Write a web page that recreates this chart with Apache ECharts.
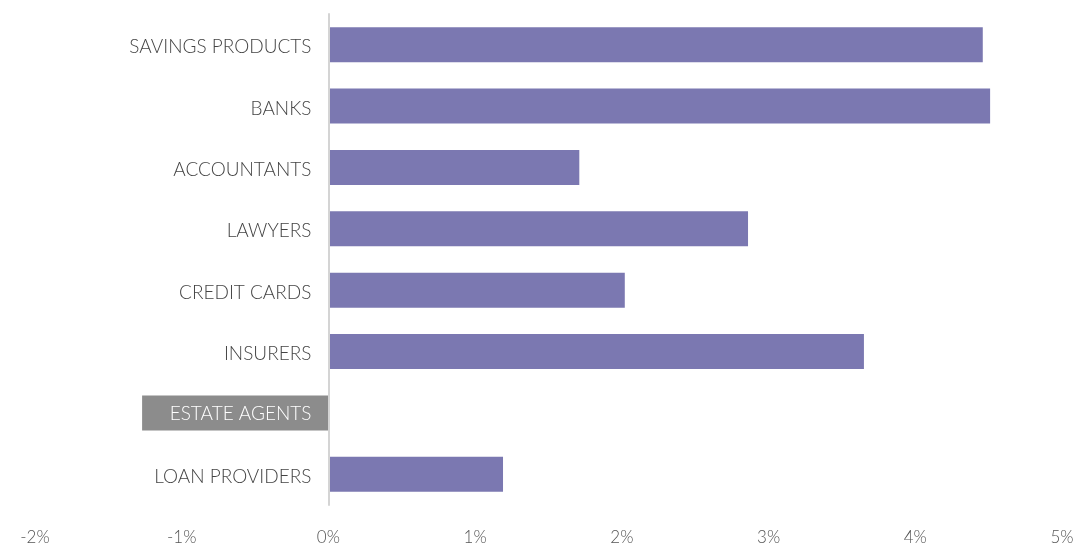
<!DOCTYPE html>
<html>
<head>
<meta charset="utf-8">
<script src="https://cdn.jsdelivr.net/npm/echarts@6/dist/echarts.min.js"></script>
<style>
  html, body { margin: 0; padding: 0; background: #fff; }
  #chart { width: 1075px; height: 544px; }
</style>
</head>
<body>
<div id="chart"></div>
<script>
// Categories listed bottom-to-top for the category y axis
const categories = [
  'LOAN PROVIDERS',
  'ESTATE AGENTS',
  'INSURERS',
  'CREDIT CARDS',
  'LAWYERS',
  'ACCOUNTANTS',
  'BANKS',
  'SAVINGS PRODUCTS'
];
// Percentage change per sector
const values = [1.19, -1.27, 3.65, 2.02, 2.86, 1.71, 4.51, 4.46];
const xTicks = [-2, -1, 0, 1, 2, 3, 4, 5];

const POS_COLOR = '#7b78b1';
const NEG_COLOR = '#8c8c8c';
const FONT = 'Lato';

const GRID_LEFT = 35;
const GRID_RIGHT = 13;
const WIDTH = 1075;
// Horizontal distance from the grid's left edge to the 0% line
const xMin = xTicks[0], xMax = xTicks[xTicks.length - 1];
const zeroOffset = (0 - xMin) / (xMax - xMin) * (WIDTH - GRID_LEFT - GRID_RIGHT);

const chart = echarts.init(document.getElementById('chart'));
chart.setOption({
  animation: false,
  grid: { left: GRID_LEFT, right: GRID_RIGHT, top: 14, bottom: 39, outerBoundsMode: 'none' },
  xAxis: {
    type: 'value',
    min: xMin,
    max: xMax,
    interval: 1,
    axisLine: { show: false },
    axisTick: { show: false },
    splitLine: { show: false },
    axisLabel: {
      margin: 24,
      color: '#555',
      fontFamily: FONT,
      fontWeight: 300,
      fontSize: 17,
      formatter: v => v + '%'
    }
  },
  yAxis: {
    type: 'category',
    data: categories,
    z: 5,
    offset: -zeroOffset,
    axisLine: { onZero: false, lineStyle: { color: '#d4d4d4', width: 2 } },
    axisTick: { show: false },
    axisLabel: {
      margin: 17,
      fontFamily: FONT,
      fontWeight: 300,
      fontSize: 19,
      color: '#444',
      formatter: (v, i) => values[i] < 0 ? '{neg|' + v + '}' : '{pos|' + v + '}',
      rich: {
        pos: { color: '#444', fontFamily: FONT, fontWeight: 300, fontSize: 19, padding: [5, 0, 0, 0] },
        neg: { color: '#ffffff', fontFamily: FONT, fontWeight: 300, fontSize: 19, padding: [2, 0, 0, 0] }
      }
    }
  },
  series: [{
    type: 'bar',
    barWidth: 35,
    data: values.map(v => ({
      value: v,
      itemStyle: { color: v < 0 ? NEG_COLOR : POS_COLOR }
    }))
  }]
});
</script>
</body>
</html>
